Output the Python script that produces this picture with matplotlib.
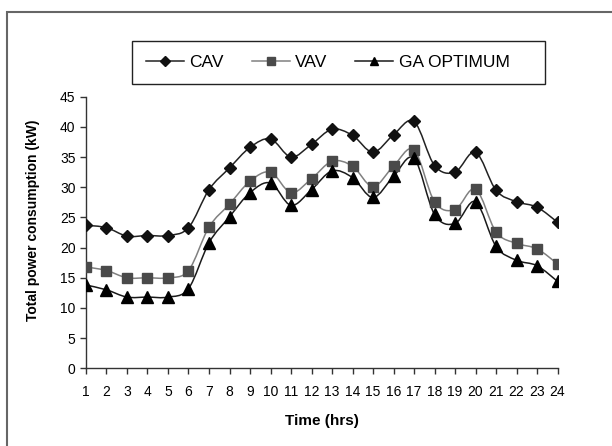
import numpy as np
import matplotlib
matplotlib.use("Agg")
import matplotlib.pyplot as plt
from matplotlib.path import Path
from matplotlib.patches import PathPatch, Rectangle
from matplotlib.lines import Line2D

plt.rcParams['font.family'] = ['Liberation Sans', 'DejaVu Sans']

# === Data ===
hours = list(range(1, 25))
cav = [23.7, 23.3, 21.9, 22.0, 22.0, 23.3, 29.6, 33.2, 36.6, 38.0, 35.0, 37.1,
       39.6, 38.6, 35.8, 38.7, 40.9, 33.6, 32.5, 35.8, 29.5, 27.6, 26.7, 24.2]
vav = [16.8, 16.2, 15.0, 15.0, 15.0, 16.2, 23.4, 27.2, 31.0, 32.5, 29.1, 31.4,
       34.3, 33.5, 30.1, 33.5, 36.2, 27.6, 26.3, 29.7, 22.6, 20.7, 19.8, 17.3]
ga_opt = [13.8, 13.0, 11.8, 11.8, 11.8, 13.2, 20.8, 25.1, 29.1, 30.7, 27.0, 29.6,
          32.7, 31.6, 28.3, 31.8, 34.8, 25.5, 24.0, 27.6, 20.2, 17.9, 17.0, 14.4]
yticks = list(range(0, 50, 5))


# === Smoothed line like Excel (Bezier through the points) ===
def smooth_path(x, y):
    pts = np.column_stack([x, y]).astype(float)
    n = len(pts)
    verts = [pts[0]]
    codes = [Path.MOVETO]
    for i in range(n - 1):
        p0 = pts[i - 1] if i > 0 else pts[i]
        p1 = pts[i]
        p2 = pts[i + 1]
        p3 = pts[i + 2] if i + 2 < n else pts[i + 1]
        c1 = p1 + (p2 - p0) / 6.0
        c2 = p2 - (p3 - p1) / 6.0
        verts += [c1, c2, p2]
        codes += [Path.CURVE4] * 3
    return Path(verts, codes)


W, H = 612, 446
fig = plt.figure(figsize=(W / 100, H / 100), dpi=100)
ax = fig.add_axes([0.1405, 0.1742, 0.7705, 0.609])

series = [
    ("CAV", cav, "#222222", "#111111", "D", 6),
    ("VAV", vav, "#808080", "#4a4a4a", "s", 7.5),
    ("GA OPTIMUM", ga_opt, "#1a1a1a", "#000000", "^", 8),
]

handles = []
for label, vals, lc, mc, mk, ms in series:
    ax.add_patch(PathPatch(smooth_path(hours, vals), facecolor="none",
                           edgecolor=lc, lw=1.1, zorder=2))
    ax.plot(hours, vals, ls="none", marker=mk, ms=ms, color=mc,
            markeredgecolor=mc, zorder=3)
    handles.append(Line2D([], [], color=lc, lw=1.1, marker=mk, ms=ms * 0.8,
                          markerfacecolor=mc, markeredgecolor=mc, label=label))

ax.set_xlim(1, 24)
ax.set_ylim(0, 45)
ax.set_xticks(hours)
ax.set_yticks(yticks)
ax.tick_params(axis="both", labelsize=10, direction="out", length=4, width=1,
               color="#333333")
ax.tick_params(axis="x", pad=8)
ax.tick_params(axis="y", pad=3.5)
for s in ["top", "right"]:
    ax.spines[s].set_visible(False)
for s in ["left", "bottom"]:
    ax.spines[s].set_color("#333333")
    ax.spines[s].set_linewidth(1)

ax.set_xlabel("Time (hrs)", fontsize=11, fontweight="bold", labelpad=11)
ax.set_ylabel("Total power consumption (kW)", fontsize=10, fontweight="bold")
ax.yaxis.set_label_coords(-0.098, 0.546)

# legend entries without frame, box drawn separately
leg = fig.legend(handles=handles, loc="center left", ncol=3,
                 bbox_to_anchor=(146 / W, 1 - 62.5 / H), fontsize=12.5,
                 frameon=False, handlelength=2.2, columnspacing=1.6,
                 handletextpad=0.3, borderpad=0, borderaxespad=0)
fig.patches.append(Rectangle((132 / W, 1 - 84 / H), (545 - 132) / W, 43 / H,
                             transform=fig.transFigure, fill=False,
                             edgecolor="#222222", lw=1))

# outer frame (cut off at right and bottom)
fig.patches.append(Rectangle((7 / W, -0.1), 1.2, 1.1 - 12 / H,
                             transform=fig.transFigure, fill=False,
                             edgecolor="#666666", lw=1.5))

fig.savefig("out.png", dpi=100)
